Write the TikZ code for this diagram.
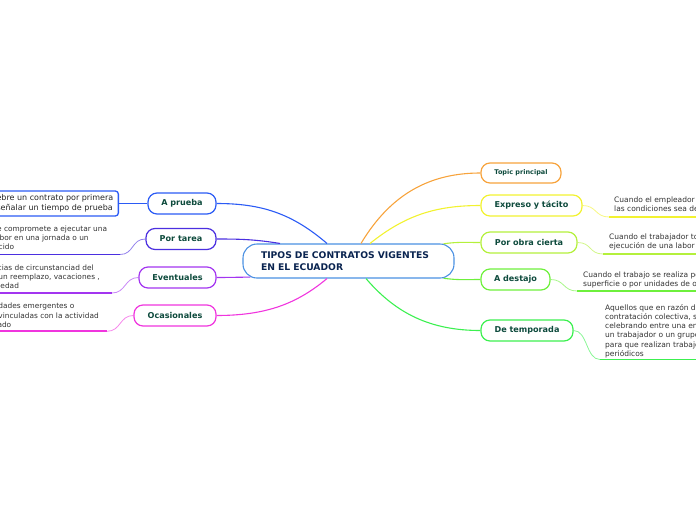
\documentclass[tikz,border=0pt]{standalone}
\usepackage{fontspec}
\setmainfont{DejaVu Sans}
\usetikzlibrary{calc}
\definecolor{cblue}{HTML}{4A90E2}
\definecolor{ctxt}{HTML}{0A2450}
\definecolor{lbl}{HTML}{0D4A3C}
\definecolor{leaftxt}{HTML}{333333}
\definecolor{cA}{HTML}{2B5BF5}
\definecolor{cT}{HTML}{4B2FE0}
\definecolor{cE}{HTML}{A335F0}
\definecolor{cO}{HTML}{F035DE}
\definecolor{cTp}{HTML}{F7A33C}
\definecolor{cX}{HTML}{F2F230}
\definecolor{cPo}{HTML}{B4F03C}
\definecolor{cD}{HTML}{6EF03C}
\definecolor{cDt}{HTML}{3CF050}
\begin{document}
\begin{tikzpicture}[x=1pt,y=-1pt,
  branch/.style={draw, line width=1.2pt, rounded corners=9pt, fill=white, minimum height=21pt, inner sep=0pt, font=\fontsize{8.1}{10}\selectfont\bfseries, text=lbl},
  leaf/.style={inner sep=0pt, align=left, font=\fontsize{7.5}{9.2}\selectfont, text=leaftxt},
  lleaf/.style={leaf, font=\fontsize{7.4}{9.2}\selectfont},
  ul/.style={line width=1.8pt},
  lnk/.style={line width=1.1pt},
  twig/.style={line width=0.8pt, opacity=0.6}]
\useasboundingbox (0,0) rectangle (696,520);
\clip (0,0) rectangle (696,520);

% central topic
\node[draw=cblue, line width=1.1pt, rounded corners=14pt, minimum width=211pt, minimum height=34pt,
      text width=175pt, inner xsep=18pt, inner ysep=0pt, align=left,
      font=\fontsize{9.2}{11.6}\selectfont\bfseries, text=ctxt] (c) at (348.5,261)
      {TIPOS DE CONTRATOS VIGENTES\\EN EL ECUADOR};

% main branches
\node[branch, draw=cA, minimum width=68pt] (ap) at (182,203.5) {A prueba};
\node[branch, draw=cT, minimum width=70pt] (pt) at (181,239) {Por tarea};
\node[branch, draw=cE, minimum width=77pt] (ev) at (177.5,277.5) {Eventuales};
\node[branch, draw=cO, minimum width=82pt] (oc) at (175,315.5) {Ocasionales};
\node[branch, draw=cTp, minimum width=80pt, minimum height=20pt, font=\fontsize{6.5}{8}\selectfont\bfseries] (tp) at (521,173) {Topic principal};
\node[branch, draw=cX, minimum width=101pt] (ex) at (531.5,205.5) {Expreso y tácito};
\node[branch, draw=cPo, minimum width=96pt] (po) at (529,242.5) {Por obra cierta};
\node[branch, draw=cD, minimum width=69pt] (ad) at (515.5,279.5) {A destajo};
\node[branch, draw=cDt, minimum width=92pt] (dt) at (527,330.5) {De temporada};

% connectors from centre
\draw[lnk, cA] ([xshift=-21.5pt]c.north) .. controls +(-35,-30) and +(45,0) .. (ap.east);
\draw[lnk, cT] ([xshift=-68.5pt]c.north) .. controls +(-25,-4) and +(25,0) .. (pt.east);
\draw[lnk, cE] ([xshift=8pt,yshift=1.4pt]c.south west) .. controls +(-12,0) and +(12,0) .. (ev.east);
\draw[lnk, cO] ([xshift=-21.5pt]c.south) .. controls +(-30,25) and +(50,0) .. (oc.east);
\draw[lnk, cTp] ([xshift=12.5pt]c.north) .. controls +(30,-50) and +(-50,0) .. (tp.west);
\draw[lnk, cX] ([xshift=21.5pt]c.north) .. controls +(35,-28) and +(-45,0) .. (ex.west);
\draw[lnk, cPo] ([xshift=-11pt,yshift=-0.3pt]c.north east) .. controls +(15,-2) and +(-15,0) .. (po.west);
\draw[lnk, cD] ([xshift=-11pt,yshift=0.3pt]c.south east) .. controls +(15,2) and +(-15,0) .. (ad.west);
\draw[lnk, cDt] ([xshift=17.5pt]c.south) .. controls +(30,35) and +(-50,0) .. (dt.west);

% left leaves
\node[draw=cA, line width=1.3pt, rounded corners=3pt, anchor=east, inner xsep=5pt, inner ysep=0pt,
      minimum height=25pt, align=left, font=\fontsize{8}{10}\selectfont, text=black!85] (apl) at (119,203.5)
      {Cuando se celebre un contrato por primera\\vez, se podrá señalar un tiempo de prueba};
\draw[lnk, cA] (ap.west) -- (apl.east);

\node[lleaf, anchor=north east] (ptl) at (107.3,225.4)
      {El trabajador se compromete a ejecutar una\\determinada labor en una jornada o un\\tiempo establecido};
\coordinate (ptu) at (120,254.5);
\draw[ul, cT] (ptu) -- +(-130,0);
\draw[twig, cT] (pt.west) .. controls +(-14,0) and +(14,0) .. (ptu);

\node[lleaf, anchor=north east] (evl) at (100,264.4)
      {Atender exigencias de circunstanciad del\\empresa como un reemplazo, vacaciones ,\\licencia, enfermedad};
\coordinate (evu) at (112,293);
\draw[ul, cE] (evu) -- +(-130,0);
\draw[twig, cE] (ev.west) .. controls +(-14,0) and +(14,0) .. (evu);

\node[lleaf, anchor=north east] (ocl) at (99,302.7)
      {Atención de necesidades emergentes o\\extraordinarias no vinculadas con la actividad\\habitual del empleado};
\coordinate (ocu) at (107,331.3);
\draw[ul, cO] (ocu) -- +(-130,0);
\draw[twig, cO] (oc.west) .. controls +(-14,0) and +(14,0) .. (ocu);

% right leaves
\node[leaf, anchor=north west] (exl) at (614,196.3)
      {Cuando el empleador y el trabajador acuerdan\\las condiciones sea de palabra o por escrito};
\coordinate (exu) at (609,217);
\draw[ul, cX] (exu) -- +(130,0);
\draw[twig, cX] (ex.east) .. controls +(14,0) and +(-14,0) .. (exu);

\node[leaf, anchor=north west] (pol) at (609,233.3)
      {Cuando el trabajador toma a su cargo la\\ejecución de una labor determinada};
\coordinate (pou) at (603,254);
\draw[ul, cPo] (pou) -- +(130,0);
\draw[twig, cPo] (po.east) .. controls +(14,0) and +(-14,0) .. (pou);

\node[leaf, anchor=north west] (adl) at (583,271.3)
      {Cuando el trabajo se realiza por piezas, trozos o medidas de\\superficie o por unidades de obra};
\coordinate (adu) at (577,291);
\draw[ul, cD] (adu) -- +(130,0);
\draw[twig, cD] (ad.east) .. controls +(14,0) and +(-14,0) .. (adu);

\node[leaf, anchor=north west] (dtl) at (605,304)
      {Aquellos que en razón de la costumbre o de la\\contratación colectiva, se han venido\\celebrando entre una empresa o empleador y\\un trabajador o un grupo de trabajadores\\para que realizan trabajos cíclicos o\\periódicos};
\coordinate (dtu) at (600,359.5);
\draw[ul, cDt] (dtu) -- +(130,0);
\draw[twig, cDt] (dt.east) .. controls +(14,0) and +(-14,0) .. (dtu);
\end{tikzpicture}
\end{document}
